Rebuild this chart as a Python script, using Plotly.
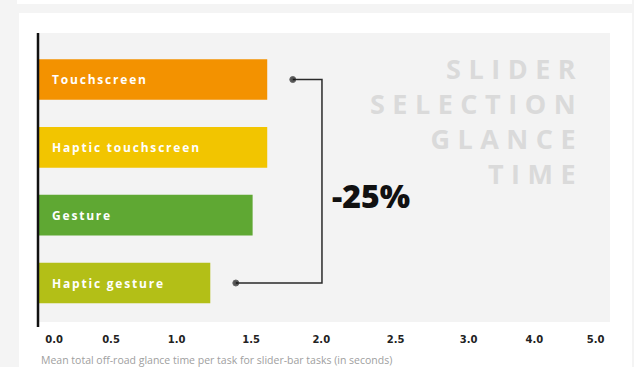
import plotly.graph_objects as go

# ---- data ----
categories = ["Touchscreen", "Haptic touchscreen", "Gesture", "Haptic gesture"]
values = [1.57, 1.57, 1.47, 1.18]
bar_colors = ["#f39200", "#f2c500", "#5fa833", "#b3bf17"]
tick_labels = ["0.0", "0.5", "1.0", "1.5", "2.0", "2.5", "3.0", "4.0", "5.0"]
tick_pos = [0.11, 0.5, 0.95, 1.46, 1.94, 2.45, 2.95, 3.40, 3.82]
title_lines = ["SLIDER", "SELECTION", "GLANCE", "TIME"]
axis_title = "Mean total off-road glance time per task for slider-bar tasks (in seconds)"

W, H = 634, 367
def px(x):
    return x / W
def py(y):
    return 1 - y / H

X0, X1 = 38, 610      # plot area in pixels
Y0, Y1 = 33, 322
UNIT = 146.0          # px per x-unit

fig = go.Figure()

fig.add_trace(go.Bar(
    y=categories, x=values, orientation="h",
    marker=dict(color=bar_colors, line=dict(width=0)),
    width=0.6, hoverinfo="skip", showlegend=False,
))

# bracket comparing first and last bar
off = 0.175
vx = max(values) + 0.375
fig.add_trace(go.Scatter(
    x=[values[0] + off, vx, vx, values[-1] + off],
    y=[categories[0], categories[0], categories[-1], categories[-1]],
    mode="lines+markers",
    line=dict(color="#2a2a2a", width=1.5),
    marker=dict(size=[6, 0, 0, 6], color="#111"),
    hoverinfo="skip", showlegend=False,
))

pct = round((values[-1] / values[0] - 1) * 100)

shapes = [
    dict(type="rect", xref="paper", yref="paper", x0=px(17), x1=px(632), y0=py(4), y1=py(0),
         fillcolor="#ffffff", line=dict(width=0), layer="below"),
    dict(type="rect", xref="paper", yref="paper", x0=px(19), x1=px(632), y0=py(367), y1=py(13),
         fillcolor="#ffffff", line=dict(width=0), layer="below"),
    dict(type="rect", xref="paper", yref="paper", x0=px(X0), x1=px(X1), y0=py(Y1), y1=py(Y0),
         fillcolor="#f3f3f3", line=dict(width=0), layer="below"),
    dict(type="line", xref="paper", yref="paper", x0=px(38), x1=px(38), y0=py(327), y1=py(33),
         line=dict(color="#111", width=2.5), layer="above"),
]

annotations = []
for c in categories:
    annotations.append(dict(
        x=0, y=c, xref="x", yref="y", xanchor="left", yanchor="middle", xshift=12,
        text=f'<span style="letter-spacing:1.8px">{c}</span>', showarrow=False,
        font=dict(family="Open Sans", size=12, color="#ffffff", weight="bold"),
    ))

title_text = "<br>".join(f'<span style="letter-spacing:7.5px">{t}</span>' for t in title_lines)
annotations.append(dict(
    x=px(585), y=py(121), xref="paper", yref="paper", xanchor="right", yanchor="middle",
    align="right", text=title_text, showarrow=False,
    font=dict(family="Open Sans", size=27, color="#dadada", weight="bold"),
))

annotations.append(dict(
    x=px(330), y=py(195), xref="paper", yref="paper", xanchor="left", yanchor="middle",
    text=f"{pct}%", showarrow=False,
    font=dict(family="Open Sans", size=32, color="#111111", weight=800),
))

annotations.append(dict(
    x=px(39), y=py(360), xref="paper", yref="paper", xanchor="left", yanchor="middle",
    text=axis_title, showarrow=False,
    font=dict(family="Open Sans", size=10.5, color="#a0a0a0"),
))

fig.update_layout(
    width=W, height=H,
    margin=dict(l=0, r=0, t=0, b=0),
    paper_bgcolor="#f4f4f4",
    plot_bgcolor="rgba(0,0,0,0)",
    bargap=0.4,
    xaxis=dict(
        domain=[px(X0), px(X1)], range=[0, (X1 - X0) / UNIT],
        showgrid=False, zeroline=False, showline=False,
        tickvals=tick_pos, ticktext=tick_labels, ticks="",
        tickfont=dict(family="DejaVu Sans", size=10, color="#222222", weight="bold"),
        ticklabelstandoff=10,
        fixedrange=True,
    ),
    yaxis=dict(
        domain=[py(Y1), py(Y0)],
        type="category", categoryorder="array", categoryarray=categories,
        range=[3.575, -0.686], autorange=False,
        showgrid=False, zeroline=False, showline=False, showticklabels=False,
        fixedrange=True,
    ),
    shapes=shapes,
    annotations=annotations,
)

fig.write_html("out.html", config={"displayModeBar": False},
               post_script="document.body.style.margin='0';")
